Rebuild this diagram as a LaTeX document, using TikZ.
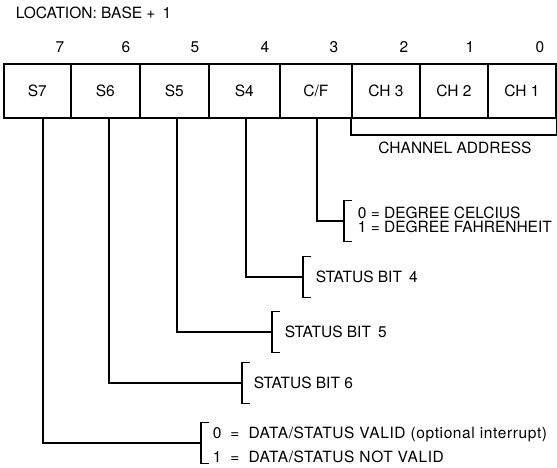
\documentclass[tikz,border=0pt]{standalone}
\usepackage{fontspec}
\setmainfont{TeX Gyre Heros}
\begin{document}
\begin{tikzpicture}[x=1pt,y=-1pt,line width=1.7pt,
  font=\fontsize{15.5}{15}\selectfont,
  cell/.style={draw,minimum height=54pt,inner sep=0pt,anchor=north west},
  bitnum/.style={inner sep=0pt},
  lbl/.style={inner sep=0pt,anchor=west,align=left},
  wide/.style={font=\fontsize{15.5}{15}\selectfont\addfontfeatures{LetterSpace=4}},
  brk/.style={line width=1.7pt},
  conn/.style={line width=1.7pt}]
\path[use as bounding box] (0,0) rectangle (557,468);
\node[lbl] (loc) at (15,13) {LOCATION: BASE +\hspace{7pt}1};
% bit numbers
\node[bitnum] (n7) at (60,47) {7};
\node[bitnum] (n6) at (126,47) {6};
\node[bitnum] (n5) at (195,47) {5};
\node[bitnum] (n4) at (265,47) {4};
\node[bitnum] (n3) at (334,47) {3};
\node[bitnum] (n2) at (404,47) {2};
\node[bitnum] (n1) at (470,47) {1};
\node[bitnum] (n0) at (540,47) {0};
% register cells
\node[cell,minimum width=67pt] (s7) at (3,63) {S7};
\node[cell,minimum width=69pt] (s6) at (70,63) {S6};
\node[cell,minimum width=69pt] (s5) at (139,63) {S5};
\node[cell,minimum width=71pt] (s4) at (208,63) {S4};
\node[cell,minimum width=72pt] (cf) at (279,63) {C/F};
\node[cell,minimum width=68pt] (ch3) at (351,63) {CH 3};
\node[cell,minimum width=68pt] (ch2) at (419,63) {CH 2};
\node[cell,minimum width=68pt] (ch1) at (487,63) {CH 1};
% channel address bracket
\draw[brk] (ch3.south west) -- ++(0,16) -| (ch1.south east);
\node[inner sep=0pt] (chaddr) at (455,148) {CHANNEL ADDRESS};
% bracket coordinates (middle points)
\coordinate (bcf) at (344,221);
\coordinate (b4) at (303,277);
\coordinate (b5) at (272,332);
\coordinate (b6) at (242,383);
\coordinate (b7) at (201,443);
% brackets
\foreach \b in {bcf,b4,b5,b6,b7}{
  \draw[brk] ([shift={(8,-20.5)}]\b) -- ([shift={(0,-20.5)}]\b) -- ([shift={(0,20.5)}]\b) -- ([shift={(8,20.5)}]\b);
}
% connectors
\draw[conn] ([xshift=1pt]cf.south) |- (bcf);
\draw[conn] ([xshift=1.5pt]s4.south) |- (b4);
\draw[conn] ([xshift=2.5pt]s5.south) |- (b5);
\draw[conn] ([xshift=3.5pt]s6.south) |- (b6);
\draw[conn] ([xshift=5.5pt]s7.south) |- (b7);
% labels
\node[lbl] (tcf0) at (357,213) {0 = DEGREE CELCIUS};
\node[lbl] (tcf1) at (357,227) {1 = DEGREE FAHRENHEIT};
\node[lbl] (t4) at (315,277) {STATUS BIT\hspace{7pt}4};
\node[lbl] (t5) at (284,332) {STATUS BIT\hspace{7pt}5};
\node[lbl] (t6) at (253,383) {STATUS BIT 6};
\node[lbl,wide] (t70) at (212,434) {0\hspace{9pt}=\hspace{9pt}DATA/STATUS VALID (optional interrupt)};
\node[lbl,wide] (t71) at (212,457) {1\hspace{9pt}=\hspace{9pt}DATA/STATUS NOT VALID};
\end{tikzpicture}
\end{document}
